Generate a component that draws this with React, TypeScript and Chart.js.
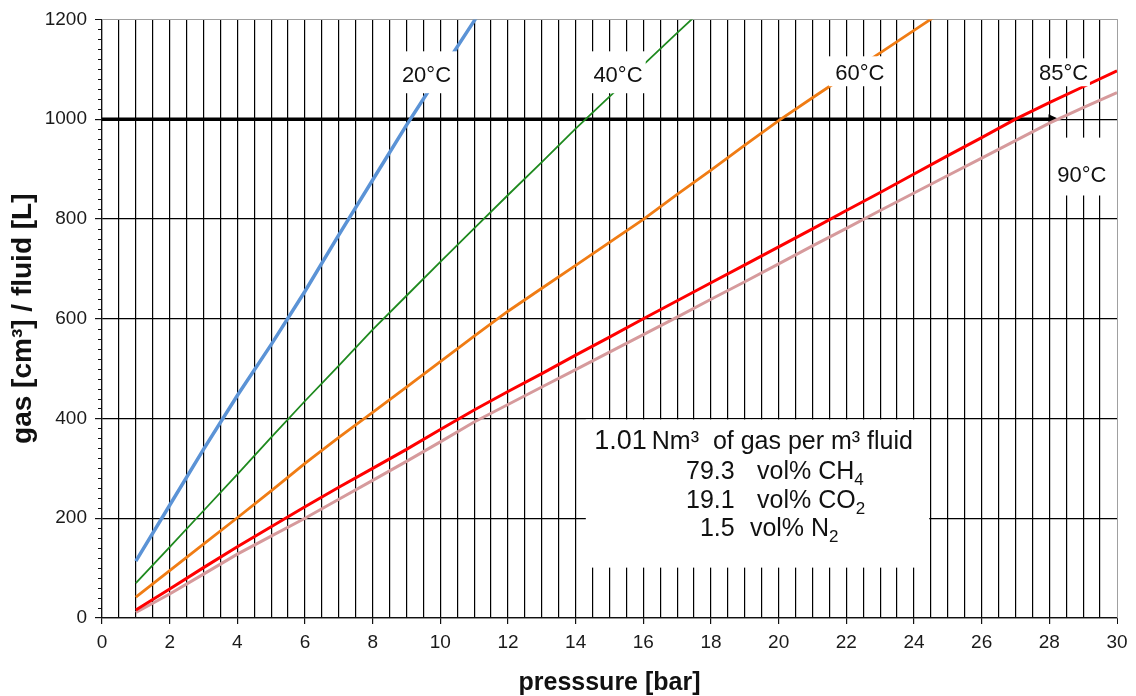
import React, { useEffect, useRef } from "react";
import { Chart, registerables } from "chart.js";

Chart.register(...registerables);

const FONT = '"Liberation Sans", Arial, Helvetica, sans-serif';

// ---- axes ----
const xMin = 0;
const xMax = 30;
const xStep = 0.5;
const yMin = 0;
const yMax = 1200;
const yStep = 20;

// ---- series (pressure [bar] -> gas [cm³] / fluid [L]) ----
const p20 = [1, 2, 3, 4, 5, 6, 7, 8, 9, 10, 11, 11.5];
const gas20 = [114, 226, 338, 446, 548, 655, 768, 878, 988, 1093, 1197, 1249];

const p40 = [1, 2, 3, 4, 5, 6, 7, 8, 9, 10, 11, 12, 13, 14, 15, 16, 17, 18];
const gas40 = [70, 142, 215, 288, 362, 435, 506, 578, 646, 714, 781, 848, 914, 981, 1045, 1109, 1173, 1236];

const p60 = [1, 2, 3, 4, 5, 6, 7, 8, 9, 10, 11, 12, 13, 14, 15, 16, 17, 18, 19, 20, 21, 22, 23, 24, 25];
const gas60 = [42, 95, 148, 201, 255, 310, 362, 412, 463, 514, 565, 615, 661, 707, 753, 799, 849, 898, 948, 997, 1043, 1088, 1133, 1178, 1223];

const p85 = [1, 2, 3, 4, 5, 6, 7, 8, 9, 10, 11, 12, 13, 14, 15, 16, 17, 18, 19, 20, 21, 22, 23, 24, 25, 26, 27, 28, 29, 30];
const gas85 = [16, 58, 101, 143, 183, 223, 262, 300, 338, 378, 417, 454, 490, 527, 563, 600, 636, 672, 708, 744, 780, 817, 853, 890, 927, 963, 1000, 1033, 1065, 1097];

const p90 = [1, 2, 3, 4, 5, 6, 7, 8, 9, 10, 11, 12, 13, 14, 15, 16, 17, 18, 19, 20, 21, 22, 23, 24, 25, 26, 27, 28, 29, 30];
const gas90 = [11, 48, 88, 128, 164, 200, 238, 276, 314, 353, 393, 428, 463, 498, 533, 568, 603, 639, 674, 710, 746, 781, 817, 852, 887, 922, 957, 992, 1023, 1053];

const seriesNames = ["20°C", "40°C", "60°C", "85°C", "90°C"];
const seriesX = [p20, p40, p60, p85, p90];
const seriesY = [gas20, gas40, gas60, gas85, gas90];
const seriesColors = ["#5b93d6", "#1f8a1f", "#f07c14", "#ff0000", "#d69a9c"];
const seriesWidths = [3.5, 1.8, 2.8, 3, 3];

// ---- arrow at 1 m³ gas ----
const arrowLevel = 1000;
const arrowTip = 28.3;

// ---- curve labels ----
const labelTexts = ["20°C", "40°C", "60°C", "85°C", "90°C"];
const labelX = [9.59, 15.25, 22.4, 28.42, 28.96];
const labelY = [1087, 1087, 1091, 1091, 887];
const labelBoxX0 = [8.69, 14.44, 21.48, 27.6, 28.1];
const labelBoxX1 = [10.47, 16.07, 23.2, 29.2, 29.8];
const labelBoxY0 = [1052, 1052, 1066, 1066, 847];
const labelBoxY1 = [1136, 1136, 1126, 1122, 963];

// ---- info box ----
const infoBoxX = [14.3, 24.45];
const infoBoxY = [101, 398];
const infoTitleValue = "1.01";
const infoTitleText = "Nm³  of gas per m³ fluid";
const infoNumbers = ["79.3", "19.1", "1.5"];
const infoGas = ["vol% CH", "vol% CO", "vol% N"];
const infoSub = ["4", "2", "2"];
const infoLineY = [279, 221, 163.5];
const infoGasX = [19.36, 19.36, 19.15];

const GRID = "#000000";

const decorations = {
  id: "decorations",
  beforeDatasetsDraw(chart: any) {
    const { ctx, chartArea: a, scales } = chart;
    const x = scales.x;
    const y = scales.y;
    ctx.save();
    // gray frame (top, right)
    ctx.strokeStyle = "#a0a0a0";
    ctx.lineWidth = 1;
    ctx.beginPath();
    ctx.moveTo(a.left, Math.round(a.top) + 0.5);
    ctx.lineTo(Math.round(a.right) + 0.5, Math.round(a.top) + 0.5);
    ctx.lineTo(Math.round(a.right) + 0.5, a.bottom);
    ctx.stroke();
    // minor y ticks
    ctx.strokeStyle = "#111";
    ctx.beginPath();
    for (const t of y.ticks) {
      if (t.value % 200 === 0) continue;
      const py = Math.round(y.getPixelForValue(t.value)) + 0.5;
      ctx.moveTo(a.left - 4, py);
      ctx.lineTo(a.left, py);
    }
    ctx.stroke();
    // white info box
    const bx0 = x.getPixelForValue(infoBoxX[0]);
    const bx1 = x.getPixelForValue(infoBoxX[1]);
    const by0 = y.getPixelForValue(infoBoxY[1]);
    const by1 = y.getPixelForValue(infoBoxY[0]);
    ctx.fillStyle = "#ffffff";
    ctx.fillRect(bx0, by0, bx1 - bx0, by1 - by0);
    // arrow
    const ay = y.getPixelForValue(arrowLevel);
    const tx = x.getPixelForValue(arrowTip);
    ctx.strokeStyle = "#000";
    ctx.lineWidth = 3.5;
    ctx.beginPath();
    ctx.moveTo(a.left, ay);
    ctx.lineTo(tx - 8, ay);
    ctx.stroke();
    ctx.fillStyle = "#000";
    ctx.beginPath();
    ctx.moveTo(tx, ay);
    ctx.lineTo(tx - 11, ay - 5);
    ctx.lineTo(tx - 11, ay + 5);
    ctx.closePath();
    ctx.fill();
    ctx.restore();
  },
  afterDatasetsDraw(chart: any) {
    const { ctx, scales } = chart;
    const x = scales.x;
    const y = scales.y;
    ctx.save();
    // curve labels
    for (let i = 0; i < labelTexts.length; i++) {
      const x0 = x.getPixelForValue(labelBoxX0[i]);
      const x1 = x.getPixelForValue(labelBoxX1[i]);
      const y0 = y.getPixelForValue(labelBoxY1[i]);
      const y1 = y.getPixelForValue(labelBoxY0[i]);
      ctx.fillStyle = "#ffffff";
      ctx.fillRect(x0, y0, x1 - x0, y1 - y0);
      ctx.fillStyle = "#111";
      ctx.font = `22px ${FONT}`;
      ctx.textAlign = "center";
      ctx.textBaseline = "middle";
      ctx.fillText(labelTexts[i], x.getPixelForValue(labelX[i]), y.getPixelForValue(labelY[i]));
    }
    // info text
    ctx.fillStyle = "#111";
    ctx.textBaseline = "alphabetic";
    ctx.textAlign = "left";
    const l1y = y.getPixelForValue(339);
    ctx.font = `27px ${FONT}`;
    ctx.fillText(infoTitleValue, x.getPixelForValue(14.55), l1y);
    ctx.font = `25px ${FONT}`;
    ctx.fillText(infoTitleText, x.getPixelForValue(16.25), l1y);
    for (let i = 0; i < infoNumbers.length; i++) {
      const ly = y.getPixelForValue(infoLineY[i]);
      ctx.font = `25px ${FONT}`;
      ctx.textAlign = "right";
      ctx.fillText(infoNumbers[i], x.getPixelForValue(18.7), ly);
      ctx.textAlign = "left";
      const gx = x.getPixelForValue(infoGasX[i]);
      ctx.fillText(infoGas[i], gx, ly);
      const w = ctx.measureText(infoGas[i]).width;
      ctx.font = `17px ${FONT}`;
      ctx.fillText(infoSub[i], gx + w, ly + 6);
    }
    ctx.restore();
  },
};

export default function App() {
  const ref = useRef<HTMLCanvasElement>(null);
  useEffect(() => {
    const datasets = seriesNames.map((name, i) => ({
      label: name,
      data: seriesX[i].map((p, j) => ({ x: p, y: seriesY[i][j] })),
      borderColor: seriesColors[i],
      backgroundColor: seriesColors[i],
      borderWidth: seriesWidths[i],
      pointRadius: 0,
      tension: 0,
      fill: false,
      clip: 0,
    }));
    const chart = new Chart(ref.current as HTMLCanvasElement, {
      type: "line",
      data: { datasets },
      options: {
        animation: false,
        responsive: true,
        maintainAspectRatio: false,
        layout: { padding: { top: 17, right: 19, left: 0, bottom: 0 } },
        plugins: { legend: { display: false }, tooltip: { enabled: false } },
        scales: {
          x: {
            type: "linear",
            min: xMin,
            max: xMax,
            afterFit: (s: any) => {
              s.height = 78;
            },
            border: { color: "#111", width: 1.2 },
            grid: {
              color: (c: any) => (c.tick && c.tick.value === xMax ? "#a0a0a0" : GRID),
              lineWidth: (c: any) => (c.tick && c.tick.value === xMax ? 1 : 1.2),
              tickColor: (c: any) => (c.tick && c.tick.value % 2 === 0 ? "#111" : "rgba(0,0,0,0)"),
              tickLength: 6,
            },
            ticks: {
              stepSize: xStep,
              autoSkip: false,
              maxRotation: 0,
              padding: 7,
              color: "#1a1a1a",
              font: { family: FONT, size: 19 },
              callback: (v: any) => (Number(v) % 2 === 0 ? String(v) : ""),
            },
            title: {
              display: true,
              text: "presssure [bar]",
              color: "#111",
              font: { family: FONT, size: 25, weight: "bold", lineHeight: 1.04 },
              padding: 0,
            },
          },
          y: {
            type: "linear",
            min: yMin,
            max: yMax,
            afterFit: (s: any) => {
              s.width = 102;
            },
            border: { color: "#111", width: 1.2 },
            grid: {
              color: (c: any) => {
                const v = c.tick ? c.tick.value : 0;
                if (v === yMax) return "#a0a0a0";
                return v % 200 === 0 ? GRID : "rgba(0,0,0,0)";
              },
              lineWidth: (c: any) => (c.tick && c.tick.value === yMax ? 1 : 1.2),
              tickColor: (c: any) => (c.tick && c.tick.value % 200 === 0 ? "#111" : "rgba(0,0,0,0)"),
              tickLength: 7,
            },
            ticks: {
              stepSize: yStep,
              autoSkip: false,
              padding: 8,
              color: "#1a1a1a",
              font: { family: FONT, size: 19 },
              callback: (v: any) => (Number(v) % 200 === 0 ? String(v) : ""),
            },
            title: {
              display: true,
              text: "gas [cm³] / fluid [L]",
              color: "#111",
              font: { family: FONT, size: 28, weight: "bold", lineHeight: 1.2 },
              padding: { top: 6, bottom: 0 },
            },
          },
        },
      },
      plugins: [decorations],
    } as any);
    return () => chart.destroy();
  }, []);
  return (
    <div style={{ position: "fixed", left: 0, top: 0, width: 1136, height: 696, background: "#fff" }}>
      <canvas ref={ref} />
    </div>
  );
}
